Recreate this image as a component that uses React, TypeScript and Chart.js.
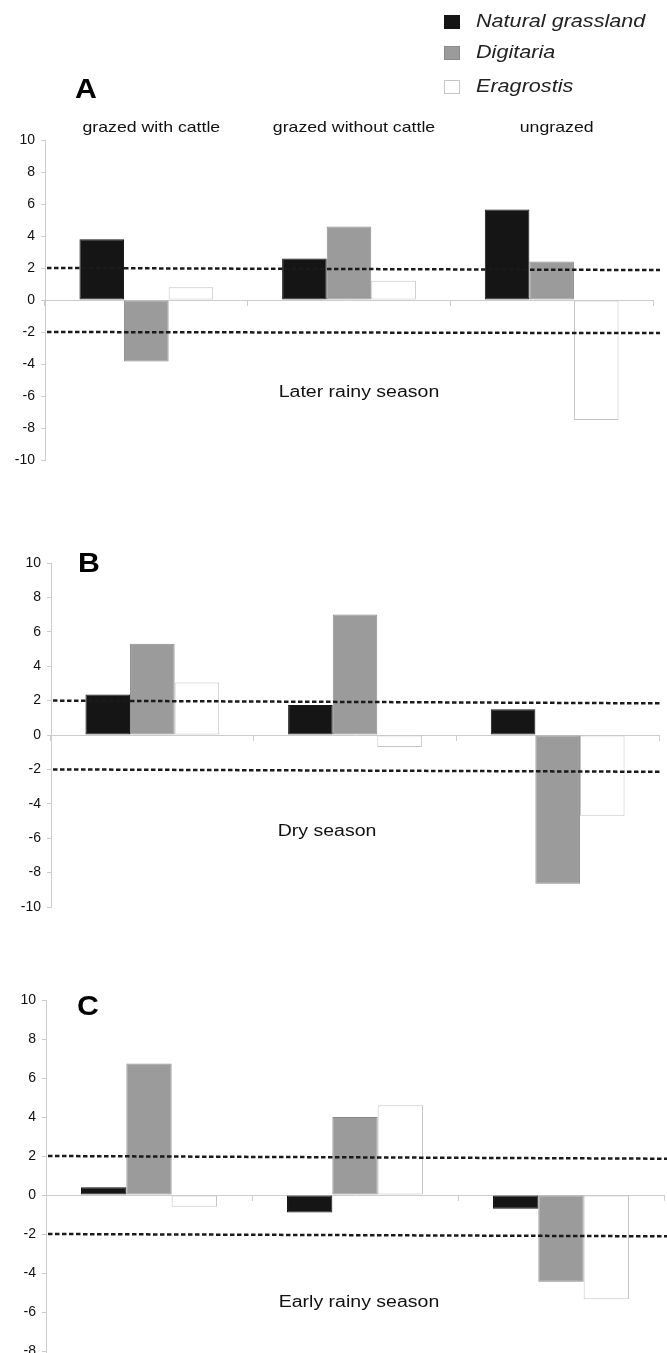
import React, { useEffect, useRef } from 'react';
import { Chart, registerables } from 'chart.js';

Chart.register(...registerables);

// ---------- data ----------
const categories = ['grazed with cattle', 'grazed without cattle', 'ungrazed'];
const seriesNames = ['Natural grassland', 'Digitaria', 'Eragrostis'];
const seriesFill = ['#151515', '#9b9b9b', '#ffffff'];
const seriesBorder = ['#151515', '#8a8a8a', '#c4c4c4'];

const yMin = -10;
const yMax = 10;
const yStep = 2;

// Panel A: later rainy season
const laterRainyNatural = [3.8, 2.6, 5.65];
const laterRainyDigitaria = [-3.85, 4.6, 2.4];
const laterRainyEragrostis = [0.8, 1.2, -7.5];
// Panel B: dry season
const dryNatural = [2.35, 1.75, 1.5];
const dryDigitaria = [5.3, 7.0, -8.65];
const dryEragrostis = [3.05, -0.7, -4.7];
// Panel C: early rainy season
const earlyRainyNatural = [0.4, -0.9, -0.7];
const earlyRainyDigitaria = [6.75, 4.0, -4.45];
const earlyRainyEragrostis = [-0.6, 4.6, -5.35];

// threshold (dashed) lines: value at left end and at right end
const thresholdLeft = [2, -2];
const thresholdRightA = [1.87, -2.07];
const thresholdRightB = [1.84, -2.14];
const thresholdRightC = [1.86, -2.12];

const FONT = "'Liberation Sans', Arial, sans-serif";

function stretchedText(
  ctx: CanvasRenderingContext2D,
  text: string,
  x: number,
  y: number,
  font: string,
  sx: number,
  align: CanvasTextAlign,
  color = '#111111'
) {
  ctx.save();
  ctx.font = font;
  ctx.translate(x, y);
  ctx.scale(sx, 1);
  ctx.textAlign = align;
  ctx.textBaseline = 'middle';
  ctx.fillStyle = color;
  ctx.fillText(text, 0, 0);
  ctx.restore();
}

type PanelCfg = {
  top: number;
  height: number;
  letter: string;
  letterX: number;
  letterY: number;
  season: string;
  seasonValue: number;
  seasonDx: number;
  series: number[][];
  thresholdRight: number[];
  dashExtra: number;
  axisLeft: number;
  pad: { top: number; right: number; bottom: number };
  showCategories: boolean;
  showLegend: boolean;
};

function makeDecor(cfg: PanelCfg) {
  return {
    id: 'panelDecor' + cfg.letter,
    afterDatasetsDraw(chart: any) {
      const ctx: CanvasRenderingContext2D = chart.ctx;
      const ys = chart.scales.y;
      const area = chart.chartArea;
      ctx.save();
      ctx.setLineDash([4.5, 2.5]);
      ctx.lineWidth = 2.5;
      ctx.strokeStyle = '#1a1a1a';
      thresholdLeft.forEach((lv, i) => {
        ctx.beginPath();
        ctx.moveTo(area.left + 2, ys.getPixelForValue(lv));
        ctx.lineTo(area.right + cfg.dashExtra, ys.getPixelForValue(cfg.thresholdRight[i]));
        ctx.stroke();
      });
      ctx.restore();
    },
    afterDraw(chart: any) {
      const ctx: CanvasRenderingContext2D = chart.ctx;
      const ys = chart.scales.y;
      const xs = chart.scales.x;
      const area = chart.chartArea;
      // panel letter
      stretchedText(ctx, cfg.letter, cfg.letterX, cfg.letterY, `bold 28px ${FONT}`, 1.08, 'center', '#000');
      // season label
      stretchedText(
        ctx,
        cfg.season,
        (area.left + area.right) / 2 + cfg.seasonDx,
        ys.getPixelForValue(cfg.seasonValue),
        `16px ${FONT}`,
        1.22,
        'center'
      );
      if (cfg.showCategories) {
        categories.forEach((c, i) => {
          stretchedText(ctx, c, xs.getPixelForValue(i) + 5, area.top - 12, `15px ${FONT}`, 1.18, 'center');
        });
      }
      if (cfg.showLegend) {
        const rowsY = [22, 53, 87];
        chart.data.datasets.forEach((ds: any, i: number) => {
          const y = rowsY[i];
          ctx.save();
          ctx.fillStyle = ds.backgroundColor;
          ctx.fillRect(444, y - 7, 16, 14);
          ctx.lineWidth = 1;
          ctx.strokeStyle = ds.borderColor;
          ctx.strokeRect(444.5, y - 6.5, 15, 13);
          ctx.restore();
          stretchedText(ctx, ds.label, 476, y, `italic 18px ${FONT}`, 1.2, 'left', '#222222');
        });
      }
    },
  };
}

const panels: PanelCfg[] = [
  {
    top: 0,
    height: 480,
    letter: 'A',
    letterX: 86,
    letterY: 90,
    season: 'Later rainy season',
    seasonValue: -5.8,
    seasonDx: 10,
    series: [laterRainyNatural, laterRainyDigitaria, laterRainyEragrostis],
    thresholdRight: thresholdRightA,
    dashExtra: 7,
    axisLeft: 45,
    pad: { top: 140, right: 14, bottom: 20 },
    showCategories: true,
    showLegend: true,
  },
  {
    top: 480,
    height: 460,
    letter: 'B',
    letterX: 89,
    letterY: 84,
    season: 'Dry season',
    seasonValue: -5.64,
    seasonDx: -28,
    series: [dryNatural, dryDigitaria, dryEragrostis],
    thresholdRight: thresholdRightB,
    dashExtra: 1,
    axisLeft: 51,
    pad: { top: 83, right: 8, bottom: 33 },
    showCategories: false,
    showLegend: false,
  },
  {
    top: 940,
    height: 470,
    letter: 'C',
    letterX: 88,
    letterY: 67,
    season: 'Early rainy season',
    seasonValue: -5.52,
    seasonDx: 4,
    series: [earlyRainyNatural, earlyRainyDigitaria, earlyRainyEragrostis],
    thresholdRight: thresholdRightC,
    dashExtra: 7,
    axisLeft: 46,
    pad: { top: 60, right: 3, bottom: 20 },
    showCategories: false,
    showLegend: false,
  },
];

function Panel({ cfg }: { cfg: PanelCfg }) {
  const ref = useRef<HTMLCanvasElement>(null);
  useEffect(() => {
    const chart = new Chart(ref.current as HTMLCanvasElement, {
      type: 'bar',
      data: {
        labels: categories,
        datasets: cfg.series.map((vals, i) => ({
          label: seriesNames[i],
          data: vals,
          backgroundColor: seriesFill[i],
          borderColor: seriesBorder[i],
          borderWidth: 1,
          borderSkipped: false,
          categoryPercentage: 0.66,
          barPercentage: 1,
        })),
      },
      options: {
        animation: false,
        responsive: false,
        maintainAspectRatio: false,
        layout: { padding: { left: 0, right: cfg.pad.right, top: cfg.pad.top, bottom: cfg.pad.bottom } },
        plugins: { legend: { display: false }, tooltip: { enabled: false }, title: { display: false } },
        scales: {
          x: {
            position: { y: 0 } as any,
            ticks: { display: false },
            grid: { drawOnChartArea: false, color: '#cccccc', tickLength: 5, offset: true },
            border: { color: '#cccccc' },
          },
          y: {
            min: yMin,
            max: yMax,
            ticks: {
              stepSize: yStep,
              color: '#111111',
              font: { family: FONT, size: 14 },
              padding: 6,
            },
            grid: { drawOnChartArea: false, color: '#cccccc', tickLength: 4 },
            border: { color: '#cccccc' },
            afterFit: (s: any) => {
              s.width = cfg.axisLeft;
            },
          },
        },
      },
      plugins: [makeDecor(cfg)],
    } as any);
    return () => chart.destroy();
  }, []);
  return (
    <canvas
      ref={ref}
      width={667}
      height={cfg.height}
      style={{ position: 'absolute', left: 0, top: cfg.top, width: 667, height: cfg.height, display: 'block' }}
    />
  );
}

export default function App() {
  return (
    <div
      style={{
        position: 'absolute',
        left: 0,
        top: 0,
        width: 667,
        height: 1353,
        overflow: 'hidden',
        background: '#ffffff',
      }}
    >
      {panels.map((p) => (
        <Panel key={p.letter} cfg={p} />
      ))}
    </div>
  );
}
